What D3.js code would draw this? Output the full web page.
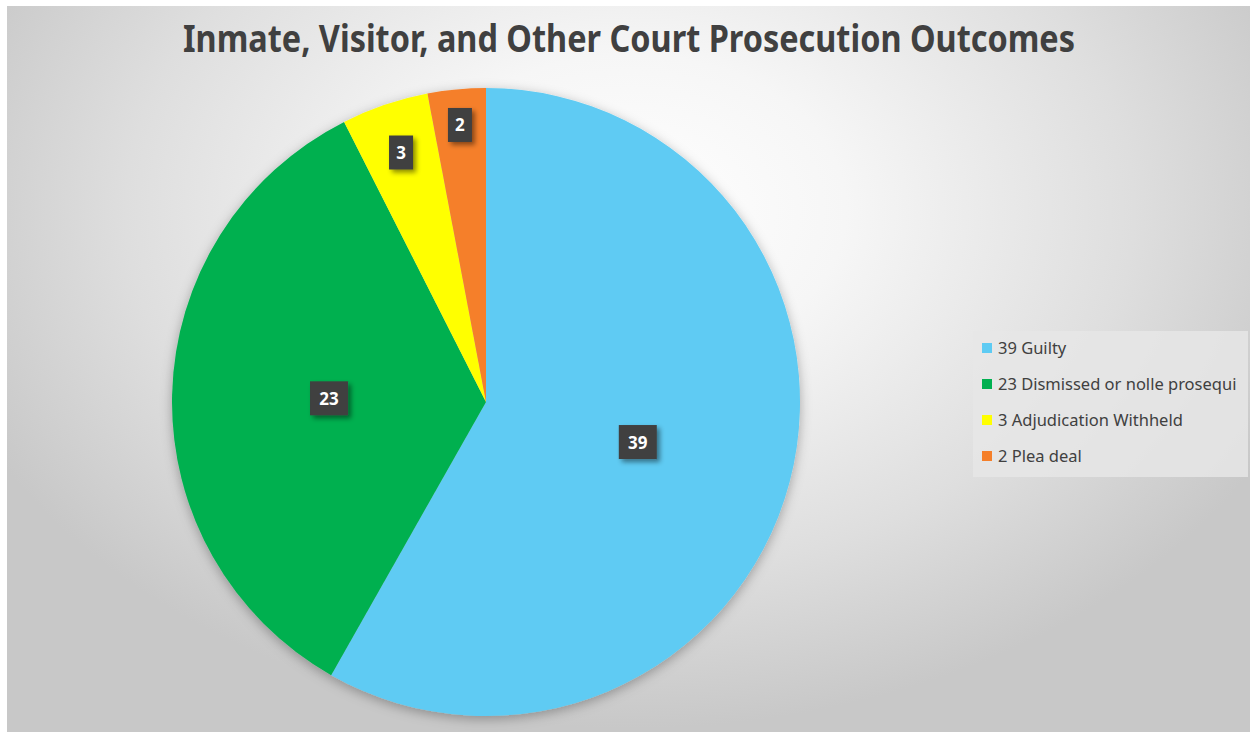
<!DOCTYPE html>
<html>
<head>
<meta charset="utf-8">
<script src="https://cdn.jsdelivr.net/npm/d3@7"></script>
<style>
  html, body { margin: 0; padding: 0; background: #ffffff; }
  svg { display: block; }
</style>
</head>
<body>
<div id="chart"></div>
<script>
// chart data
const categories = ["Guilty", "Dismissed or nolle prosequi", "Adjudication Withheld", "Plea deal"];
const counts = [39, 23, 3, 2];
const colors = ["#5ecbf3", "#00b050", "#ffff00", "#f57f29"];
const title = "Inmate, Visitor, and Other Court Prosecution Outcomes";

const W = 1250, H = 732;

const svg = d3.select("#chart")
    .append("svg")
    .attr("width", W)
    .attr("height", H);

const defs = svg.append("defs");

// background gradient (white near the top centre, grey at the corners)
const bg = defs.append("radialGradient")
    .attr("id", "bgGrad")
    .attr("gradientUnits", "userSpaceOnUse")
    .attr("cx", 630).attr("cy", 210).attr("r", 720)
    .attr("gradientTransform", "translate(630,210) scale(1,0.72) translate(-630,-210)");
bg.append("stop").attr("offset", "0").attr("stop-color", "#ffffff");
bg.append("stop").attr("offset", "0.3").attr("stop-color", "#f6f6f6");
bg.append("stop").attr("offset", "0.7").attr("stop-color", "#dedede");
bg.append("stop").attr("offset", "1").attr("stop-color", "#c8c8c8");

// soft shadow under the pie
const pieShadow = defs.append("filter")
    .attr("id", "pieShadow")
    .attr("x", "-20%").attr("y", "-20%").attr("width", "140%").attr("height", "140%");
pieShadow.append("feDropShadow")
    .attr("dx", 0).attr("dy", 3)
    .attr("stdDeviation", 6)
    .attr("flood-color", "#000")
    .attr("flood-opacity", 0.3);

// shadow for the label boxes
const boxShadow = defs.append("filter")
    .attr("id", "boxShadow")
    .attr("x", "-50%").attr("y", "-50%").attr("width", "200%").attr("height", "200%");
boxShadow.append("feDropShadow")
    .attr("dx", 3).attr("dy", 3)
    .attr("stdDeviation", 2.5)
    .attr("flood-color", "#000")
    .attr("flood-opacity", 0.45);

// chart area
svg.append("rect")
    .attr("x", 7).attr("y", 6)
    .attr("width", W - 7).attr("height", H - 6)
    .attr("fill", "url(#bgGrad)");

// title
svg.append("text")
    .attr("x", 629)
    .attr("y", 52)
    .attr("text-anchor", "middle")
    .attr("font-family", "'Liberation Sans Narrow', 'Noto Sans', sans-serif")
    .attr("font-weight", "bold")
    .attr("font-size", "37px")
    .attr("textLength", 892)
    .attr("lengthAdjust", "spacingAndGlyphs")
    .style("fill", "#404040")
    .text(title);

// pie
const cx = 486, cy = 402, radius = 314;
const data = categories.map((c, i) => ({ name: c, value: counts[i], color: colors[i] }));

const pie = d3.pie().value(d => d.value).sort(null);
const arc = d3.arc().innerRadius(0).outerRadius(radius);
const arcs = pie(data);

const g = svg.append("g")
    .attr("transform", `translate(${cx}, ${cy})`);

g.append("g")
    .attr("filter", "url(#pieShadow)")
    .selectAll("path")
    .data(arcs)
    .enter().append("path")
    .attr("d", arc)
    .attr("fill", d => d.data.color);

// data labels: big slices at half radius, thin ones pushed out toward the rim
const labels = g.selectAll(".lbl")
    .data(arcs)
    .enter().append("g")
    .attr("class", "lbl")
    .attr("transform", d => {
        const span = d.endAngle - d.startAngle;
        const r = span < 0.5 ? radius * (0.98 - span * 0.5) : radius * 0.5;
        const a = (d.startAngle + d.endAngle) / 2;
        return `translate(${r * Math.sin(a)}, ${-r * Math.cos(a)})`;
    });

labels.append("rect")
    .attr("x", d => d.data.value >= 10 ? -19 : -12)
    .attr("y", -17)
    .attr("width", d => d.data.value >= 10 ? 38 : 24)
    .attr("height", 34)
    .attr("fill", "#404040")
    .attr("filter", "url(#boxShadow)");

labels.append("text")
    .attr("text-anchor", "middle")
    .attr("y", 6.5)
    .attr("font-family", "'Noto Sans', sans-serif")
    .attr("font-weight", "bold")
    .attr("font-size", "17px")
    .style("fill", "#ffffff")
    .text(d => d.data.value);

// legend
const legend = svg.append("g")
    .attr("transform", "translate(973, 331)");

legend.append("rect")
    .attr("width", 275)
    .attr("height", 146)
    .attr("fill", "#e6e6e6")
    .attr("fill-opacity", 0.85);

const items = legend.selectAll(".item")
    .data(data)
    .enter().append("g")
    .attr("class", "item")
    .attr("transform", (d, i) => `translate(0, ${17 + i * 36})`);

items.append("rect")
    .attr("x", 9)
    .attr("y", -5)
    .attr("width", 10)
    .attr("height", 10)
    .attr("fill", d => d.color);

items.append("text")
    .attr("x", 25)
    .attr("y", 6)
    .attr("font-family", "'Noto Sans', sans-serif")
    .attr("font-size", "16.5px")
    .style("fill", "#404040")
    .text(d => `${d.value} ${d.name}`);
</script>
</body>
</html>
